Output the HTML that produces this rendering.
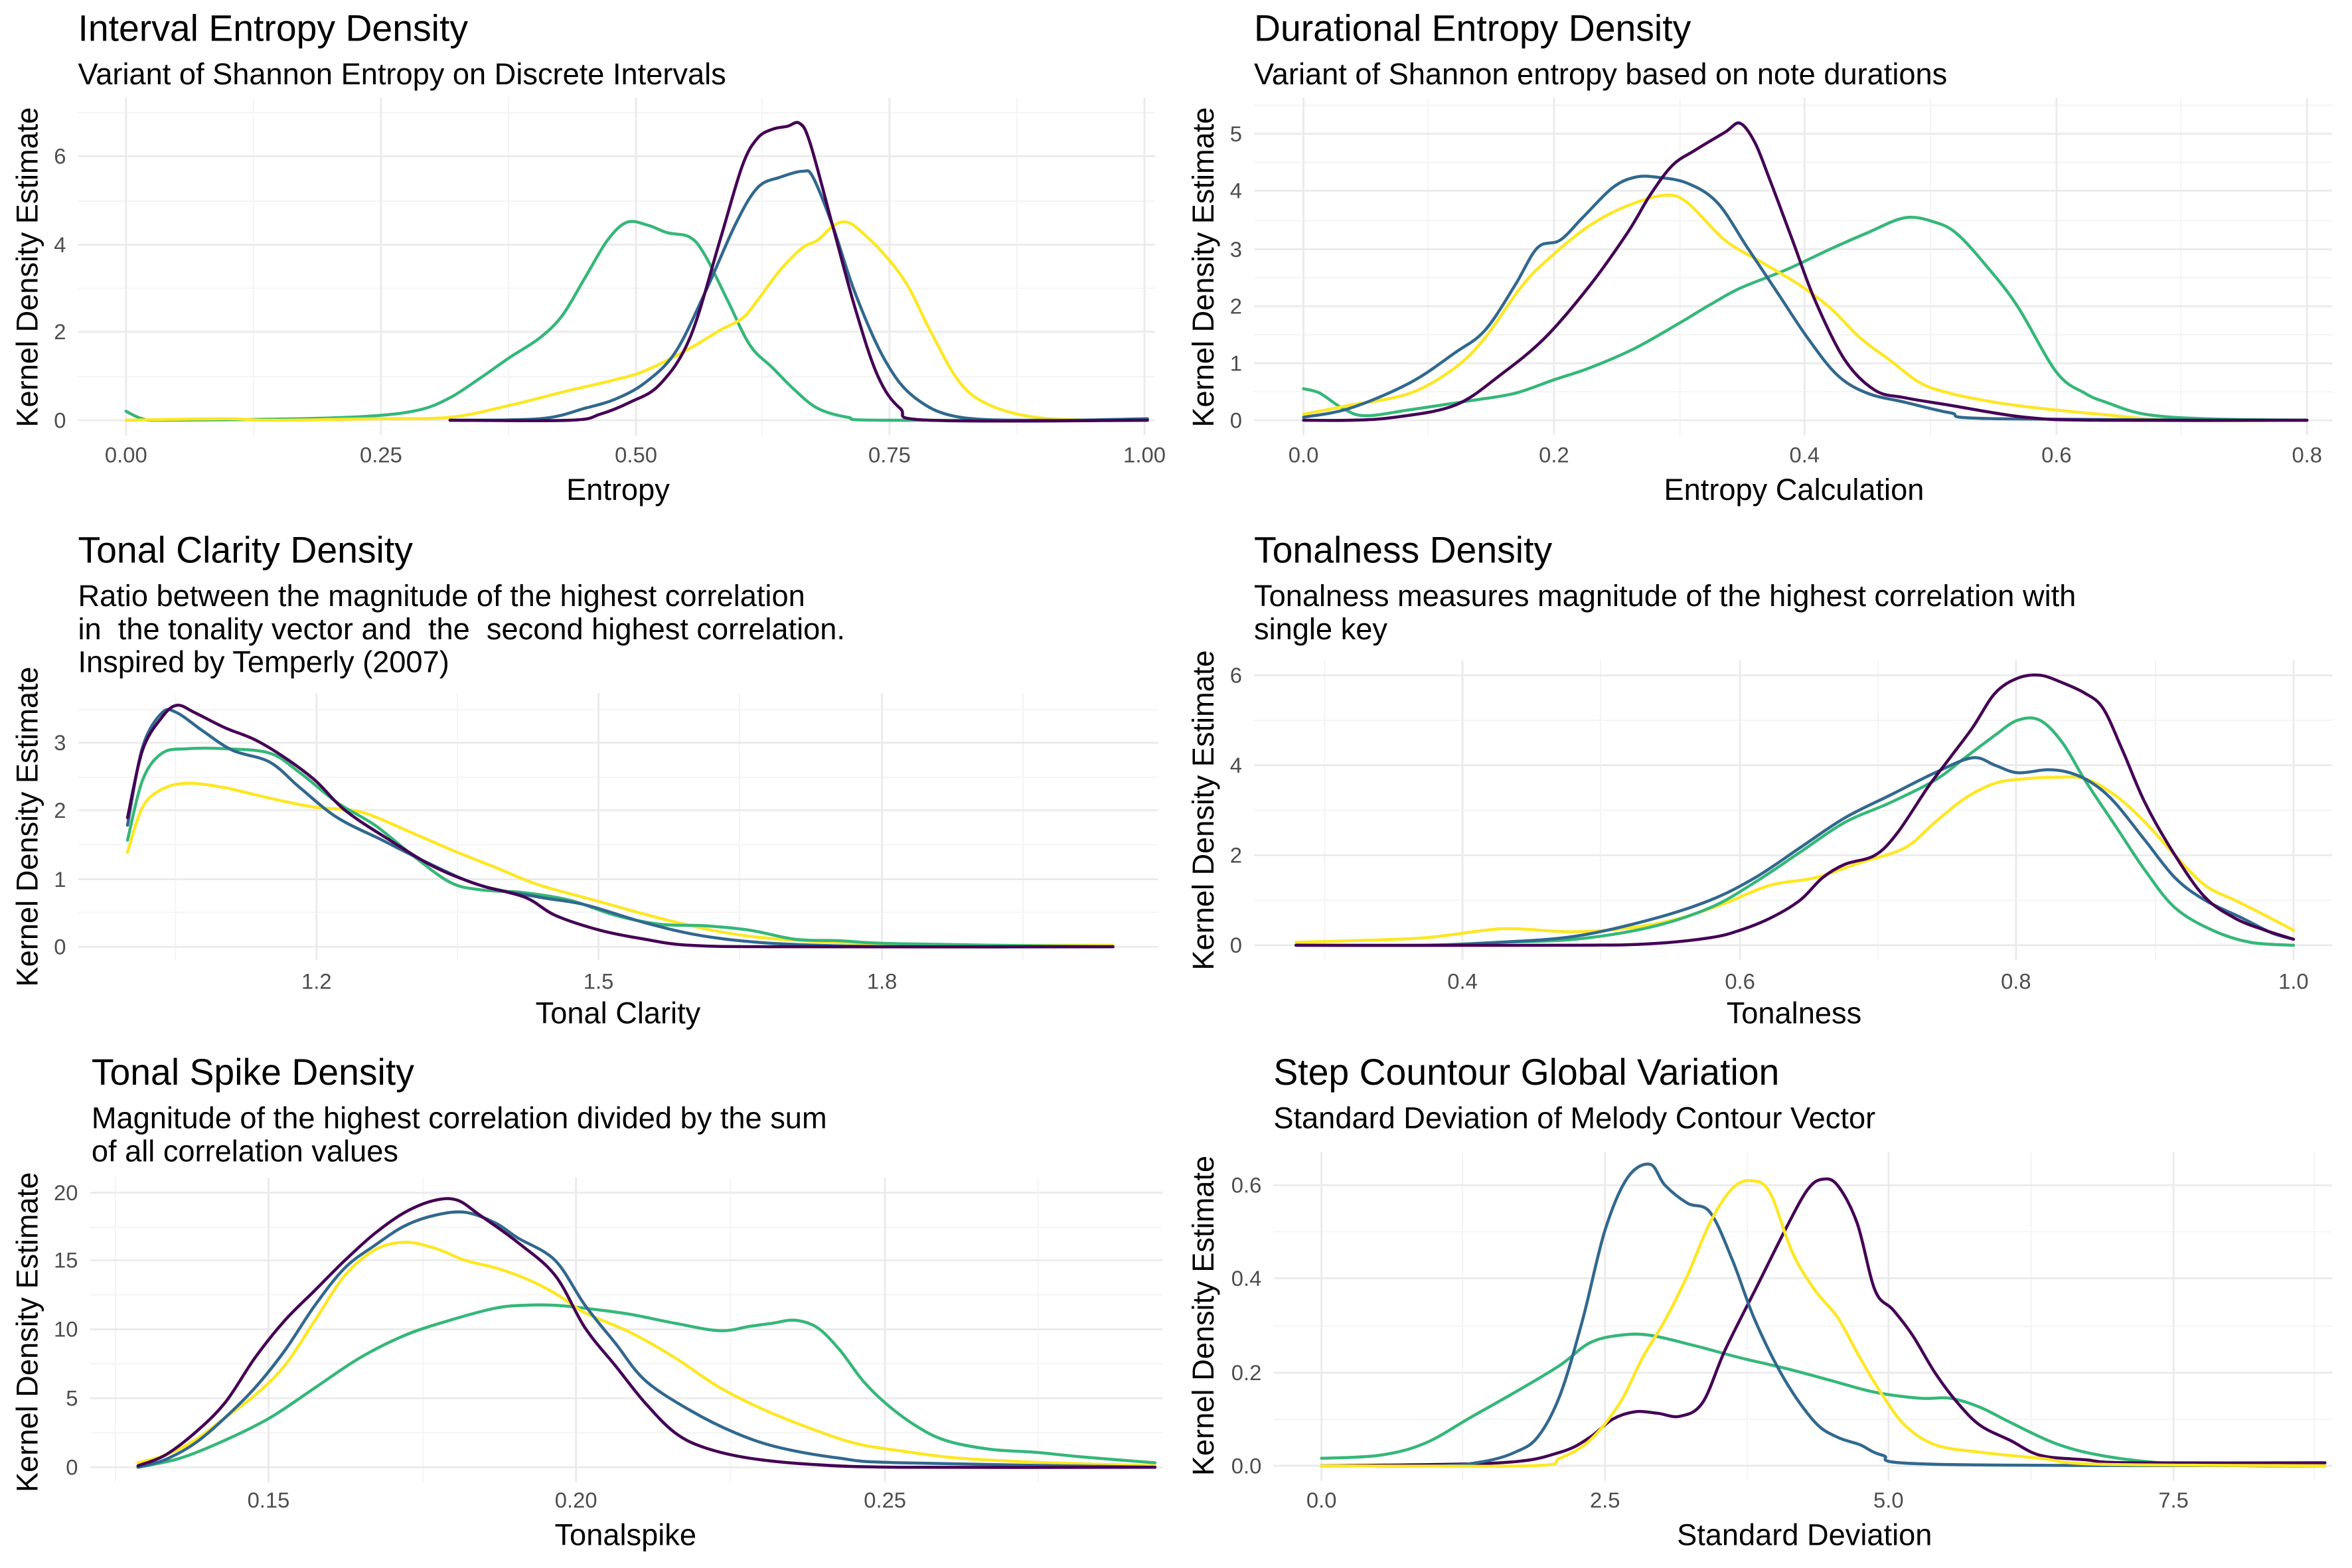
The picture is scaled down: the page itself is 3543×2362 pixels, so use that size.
<!DOCTYPE html>
<html><head><meta charset="utf-8"><style>
html,body{margin:0;padding:0;background:#fff}
svg{display:block}
text{font-family:"Liberation Sans",sans-serif}
.t{font-size:24.5px;fill:#000}
.s{font-size:20px;fill:#000}
.a{font-size:20px;fill:#000}
.k{font-size:14.5px;fill:#4d4d4d}
.mj{stroke:#ebebeb;stroke-width:1.3}
.mn{stroke:#f3f3f3;stroke-width:0.8}
.c{fill:none;stroke-width:2;stroke-linejoin:round;stroke-linecap:round}
.p{stroke:#440154}.b{stroke:#31688e}.g{stroke:#35b779}.y{stroke:#fde725}
</style></head><body>
<svg width="3543" height="2362" viewBox="0 0 1568 1045" xmlns="http://www.w3.org/2000/svg">
<rect width="1568" height="1045" fill="#fff"/>

<!-- Panel 1 -->
<g>
<g class="mn"><line x1="169" y1="65" x2="169" y2="290"/><line x1="339" y1="65" x2="339" y2="290"/><line x1="508" y1="65" x2="508" y2="290"/><line x1="678" y1="65" x2="678" y2="290"/>
<line x1="52" y1="251" x2="770" y2="251"/><line x1="52" y1="192" x2="770" y2="192"/><line x1="52" y1="134" x2="770" y2="134"/><line x1="52" y1="75" x2="770" y2="75"/></g>
<g class="mj"><line x1="84" y1="65" x2="84" y2="290"/><line x1="254" y1="65" x2="254" y2="290"/><line x1="424" y1="65" x2="424" y2="290"/><line x1="593" y1="65" x2="593" y2="290"/><line x1="763" y1="65" x2="763" y2="290"/>
<line x1="52" y1="280" x2="770" y2="280"/><line x1="52" y1="221" x2="770" y2="221"/><line x1="52" y1="163" x2="770" y2="163"/><line x1="52" y1="104" x2="770" y2="104"/></g>
<polyline class="c g" points="84,274 95,279 110,280 200,279 250,277 280,273 300,265 320,252 340,238 360,225 375,210 390,185 405,160 418,148 432,150 445,155 460,158 470,170 485,200 500,230 515,245 530,260 545,272 565,278 590,280 765,280"/>
<polyline class="c y" points="84,280 150,279 180,280 250,279 300,278 340,270 380,260 410,253 430,247 460,232 480,220 495,212 505,200 520,180 535,165 545,160 556,150 565,148 575,155 590,170 605,190 620,220 640,255 660,270 690,278 730,280 765,280"/>
<polyline class="c b" points="300,280 360,279 390,272 410,266 430,255 450,235 470,195 490,150 505,125 520,118 535,114 542,118 555,150 570,195 590,240 610,265 640,278 700,280 765,279"/>
<polyline class="c p" points="300,280 380,280 400,276 420,268 440,256 460,225 480,160 495,110 505,92 515,86 525,84 533,82 540,95 555,150 570,205 585,250 600,272 620,280 765,280"/>
<g class="k" text-anchor="end"><text x="44" y="285">0</text><text x="44" y="226">2</text><text x="44" y="168">4</text><text x="44" y="109">6</text></g>
<g class="k" text-anchor="middle"><text x="84" y="308">0.00</text><text x="254" y="308">0.25</text><text x="424" y="308">0.50</text><text x="593" y="308">0.75</text><text x="763" y="308">1.00</text></g>
<text class="a" x="412" y="333" text-anchor="middle">Entropy</text>
<text class="a" transform="translate(25,178) rotate(-90)" text-anchor="middle">Kernel Density Estimate</text>
<text class="t" x="52" y="27">Interval Entropy Density</text>
<text class="s" x="52" y="56">Variant of Shannon Entropy on Discrete Intervals</text>
</g>

<!-- Panel 2 -->
<g>
<g class="mn"><line x1="952" y1="65" x2="952" y2="290"/><line x1="1120" y1="65" x2="1120" y2="290"/><line x1="1287" y1="65" x2="1287" y2="290"/><line x1="1454" y1="65" x2="1454" y2="290"/>
<line x1="836" y1="261" x2="1555" y2="261"/><line x1="836" y1="223" x2="1555" y2="223"/><line x1="836" y1="185" x2="1555" y2="185"/><line x1="836" y1="147" x2="1555" y2="147"/><line x1="836" y1="108" x2="1555" y2="108"/><line x1="836" y1="70" x2="1555" y2="70"/></g>
<g class="mj"><line x1="869" y1="65" x2="869" y2="290"/><line x1="1036" y1="65" x2="1036" y2="290"/><line x1="1203" y1="65" x2="1203" y2="290"/><line x1="1371" y1="65" x2="1371" y2="290"/><line x1="1538" y1="65" x2="1538" y2="290"/>
<line x1="836" y1="280" x2="1555" y2="280"/><line x1="836" y1="242" x2="1555" y2="242"/><line x1="836" y1="204" x2="1555" y2="204"/><line x1="836" y1="166" x2="1555" y2="166"/><line x1="836" y1="127" x2="1555" y2="127"/><line x1="836" y1="89" x2="1555" y2="89"/></g>
<polyline class="c g" points="869,259 880,262 895,272 910,277 940,273 980,267 1010,262 1036,253 1060,245 1090,232 1120,215 1140,203 1160,192 1190,180 1220,166 1245,155 1270,145 1290,148 1305,156 1325,178 1345,204 1371,248 1390,262 1404,268 1430,276 1470,279 1538,280"/>
<polyline class="c y" points="869,276 900,270 940,262 970,245 990,225 1015,190 1035,170 1060,150 1085,137 1110,130 1125,135 1150,160 1175,175 1200,190 1220,205 1240,225 1260,240 1280,255 1300,262 1330,268 1360,272 1400,276 1450,280 1538,280"/>
<polyline class="c b" points="869,278 900,272 940,255 970,235 990,220 1010,190 1025,165 1040,160 1055,145 1075,125 1090,118 1105,118 1125,122 1145,135 1165,165 1185,195 1205,225 1225,250 1245,262 1270,268 1300,275 1330,279 1538,280"/>
<polyline class="c p" points="869,280 900,280 930,278 970,270 1000,250 1030,225 1060,190 1085,155 1100,130 1115,110 1130,100 1150,88 1160,82 1170,95 1180,120 1195,160 1210,200 1230,240 1250,260 1270,265 1300,270 1350,278 1400,280 1538,280"/>
<g class="k" text-anchor="end"><text x="828" y="285">0</text><text x="828" y="247">1</text><text x="828" y="209">2</text><text x="828" y="171">3</text><text x="828" y="132">4</text><text x="828" y="94">5</text></g>
<g class="k" text-anchor="middle"><text x="869" y="308">0.0</text><text x="1036" y="308">0.2</text><text x="1203" y="308">0.4</text><text x="1371" y="308">0.6</text><text x="1538" y="308">0.8</text></g>
<text class="a" x="1196" y="333" text-anchor="middle">Entropy Calculation</text>
<text class="a" transform="translate(809,178) rotate(-90)" text-anchor="middle">Kernel Density Estimate</text>
<text class="t" x="836" y="27">Durational Entropy Density</text>
<text class="s" x="836" y="56">Variant of Shannon entropy based on note durations</text>
</g>

<!-- Panel 3 -->
<g>
<g class="mn"><line x1="117" y1="462" x2="117" y2="640"/><line x1="305" y1="462" x2="305" y2="640"/><line x1="493" y1="462" x2="493" y2="640"/><line x1="682" y1="462" x2="682" y2="640"/>
<line x1="52" y1="608" x2="772" y2="608"/><line x1="52" y1="563" x2="772" y2="563"/><line x1="52" y1="518" x2="772" y2="518"/><line x1="52" y1="473" x2="772" y2="473"/></g>
<g class="mj"><line x1="211" y1="462" x2="211" y2="640"/><line x1="399" y1="462" x2="399" y2="640"/><line x1="588" y1="462" x2="588" y2="640"/>
<line x1="52" y1="631" x2="772" y2="631"/><line x1="52" y1="586" x2="772" y2="586"/><line x1="52" y1="540" x2="772" y2="540"/><line x1="52" y1="495" x2="772" y2="495"/></g>
<polyline class="c y" points="85,568 95,538 108,526 125,522 150,525 180,532 210,538 240,541 270,553 300,566 330,578 360,590 400,601 440,612 480,621 520,626 580,629 650,630 742,630"/>
<polyline class="c g" points="85,560 95,520 108,502 125,499 150,499 180,502 200,515 225,535 250,550 275,570 300,588 320,593 350,595 380,600 410,610 440,616 470,617 500,620 530,626 560,627 600,629 742,631"/>
<polyline class="c b" points="85,550 95,498 108,475 118,475 135,487 155,500 180,508 200,525 225,545 255,560 285,575 320,590 360,598 390,603 430,615 470,624 520,629 600,631 742,631"/>
<polyline class="c p" points="85,545 95,500 108,478 118,470 130,475 150,485 170,493 190,505 210,520 230,540 260,560 290,578 320,590 350,598 370,610 400,620 430,626 460,630 520,631 742,631"/>
<g class="k" text-anchor="end"><text x="44" y="636">0</text><text x="44" y="591">1</text><text x="44" y="545">2</text><text x="44" y="500">3</text></g>
<g class="k" text-anchor="middle"><text x="211" y="659">1.2</text><text x="399" y="659">1.5</text><text x="588" y="659">1.8</text></g>
<text class="a" x="412" y="682" text-anchor="middle">Tonal Clarity</text>
<text class="a" transform="translate(25,551) rotate(-90)" text-anchor="middle">Kernel Density Estimate</text>
<text class="t" x="52" y="375">Tonal Clarity Density</text>
<text class="s" x="52" y="404" xml:space="preserve">Ratio between the magnitude of the highest correlation</text>
<text class="s" x="52" y="426" xml:space="preserve">in  the tonality vector and  the  second highest correlation.</text>
<text class="s" x="52" y="448">Inspired by Temperly (2007)</text>
</g>

<!-- Panel 4 -->
<g>
<g class="mn"><line x1="883" y1="440" x2="883" y2="640"/><line x1="1067" y1="440" x2="1067" y2="640"/><line x1="1252" y1="440" x2="1252" y2="640"/><line x1="1437" y1="440" x2="1437" y2="640"/>
<line x1="836" y1="600" x2="1555" y2="600"/><line x1="836" y1="540" x2="1555" y2="540"/><line x1="836" y1="480" x2="1555" y2="480"/></g>
<g class="mj"><line x1="975" y1="440" x2="975" y2="640"/><line x1="1160" y1="440" x2="1160" y2="640"/><line x1="1344" y1="440" x2="1344" y2="640"/><line x1="1529" y1="440" x2="1529" y2="640"/>
<line x1="836" y1="630" x2="1555" y2="630"/><line x1="836" y1="570" x2="1555" y2="570"/><line x1="836" y1="510" x2="1555" y2="510"/><line x1="836" y1="450" x2="1555" y2="450"/></g>
<polyline class="c y" points="864,628 900,627 950,625 990,620 1010,619 1050,621 1090,618 1120,612 1150,602 1180,590 1210,585 1240,575 1270,565 1290,548 1310,532 1330,522 1350,519 1370,518 1390,519 1410,530 1430,548 1450,570 1470,590 1490,600 1510,610 1529,620"/>
<polyline class="c g" points="864,630 950,630 1000,628 1050,626 1100,618 1140,605 1170,588 1200,568 1230,548 1260,535 1290,520 1310,505 1330,490 1345,480 1360,480 1375,495 1390,520 1410,550 1430,580 1450,605 1475,620 1500,628 1529,630"/>
<polyline class="c b" points="864,630 950,630 1000,628 1050,624 1100,613 1140,600 1170,585 1200,565 1230,545 1260,530 1290,515 1315,505 1330,510 1345,515 1365,513 1380,515 1395,522 1410,535 1430,560 1450,585 1470,600 1495,612 1515,622 1529,626"/>
<polyline class="c p" points="864,630 1050,630 1100,629 1140,625 1160,620 1180,612 1200,600 1215,585 1230,576 1250,570 1265,555 1285,525 1300,505 1315,485 1330,462 1345,452 1360,450 1375,455 1390,462 1402,472 1415,500 1430,535 1450,570 1470,598 1490,612 1510,620 1529,626"/>
<g class="k" text-anchor="end"><text x="828" y="635">0</text><text x="828" y="575">2</text><text x="828" y="515">4</text><text x="828" y="455">6</text></g>
<g class="k" text-anchor="middle"><text x="975" y="659">0.4</text><text x="1160" y="659">0.6</text><text x="1344" y="659">0.8</text><text x="1529" y="659">1.0</text></g>
<text class="a" x="1196" y="682" text-anchor="middle">Tonalness</text>
<text class="a" transform="translate(809,540) rotate(-90)" text-anchor="middle">Kernel Density Estimate</text>
<text class="t" x="836" y="375">Tonalness Density</text>
<text class="s" x="836" y="404">Tonalness measures magnitude of the highest correlation with</text>
<text class="s" x="836" y="426">single key</text>
</g>

<!-- Panel 5 -->
<g>
<g class="mn"><line x1="77" y1="785" x2="77" y2="988"/><line x1="282" y1="785" x2="282" y2="988"/><line x1="487" y1="785" x2="487" y2="988"/><line x1="692" y1="785" x2="692" y2="988"/>
<line x1="60" y1="955" x2="775" y2="955"/><line x1="60" y1="909" x2="775" y2="909"/><line x1="60" y1="863" x2="775" y2="863"/><line x1="60" y1="818" x2="775" y2="818"/></g>
<g class="mj"><line x1="179" y1="785" x2="179" y2="988"/><line x1="384" y1="785" x2="384" y2="988"/><line x1="590" y1="785" x2="590" y2="988"/>
<line x1="60" y1="978" x2="775" y2="978"/><line x1="60" y1="932" x2="775" y2="932"/><line x1="60" y1="886" x2="775" y2="886"/><line x1="60" y1="840" x2="775" y2="840"/><line x1="60" y1="795" x2="775" y2="795"/></g>
<polyline class="c g" points="92,978 120,972 150,960 180,945 210,925 240,905 270,890 300,880 330,872 350,870 370,870 390,872 420,876 450,882 480,887 500,884 515,882 530,880 545,885 560,900 575,920 590,935 610,950 630,960 660,966 690,968 720,971 770,975"/>
<polyline class="c y" points="92,975 110,970 130,960 150,945 170,930 190,910 210,880 230,850 250,833 270,828 290,832 310,840 330,845 350,852 370,862 390,875 420,888 450,905 480,925 510,940 540,952 570,962 600,967 640,972 700,975 770,977"/>
<polyline class="c b" points="92,978 110,973 130,962 150,945 170,925 190,900 210,870 230,845 250,830 270,817 290,810 310,808 330,815 345,825 370,840 390,870 410,895 430,920 460,940 490,955 520,965 560,972 600,975 770,978"/>
<polyline class="c p" points="92,977 110,970 130,955 150,935 170,905 190,880 210,860 230,840 250,822 270,808 290,800 305,800 320,810 345,828 370,850 390,885 410,910 430,935 450,955 470,965 500,972 540,976 600,978 770,978"/>
<g class="k" text-anchor="end"><text x="52" y="983">0</text><text x="52" y="937">5</text><text x="52" y="891">10</text><text x="52" y="845">15</text><text x="52" y="800">20</text></g>
<g class="k" text-anchor="middle"><text x="179" y="1005">0.15</text><text x="384" y="1005">0.20</text><text x="590" y="1005">0.25</text></g>
<text class="a" x="417" y="1030" text-anchor="middle">Tonalspike</text>
<text class="a" transform="translate(25,888) rotate(-90)" text-anchor="middle">Kernel Density Estimate</text>
<text class="t" x="61" y="723">Tonal Spike Density</text>
<text class="s" x="61" y="752">Magnitude of the highest correlation divided by the sum</text>
<text class="s" x="61" y="774">of all correlation values</text>
</g>

<!-- Panel 6 -->
<g>
<g class="mn"><line x1="975" y1="768" x2="975" y2="987"/><line x1="1165" y1="768" x2="1165" y2="987"/><line x1="1354" y1="768" x2="1354" y2="987"/><line x1="1543" y1="768" x2="1543" y2="987"/>
<line x1="849" y1="946" x2="1555" y2="946"/><line x1="849" y1="884" x2="1555" y2="884"/><line x1="849" y1="821" x2="1555" y2="821"/></g>
<g class="mj"><line x1="881" y1="768" x2="881" y2="987"/><line x1="1070" y1="768" x2="1070" y2="987"/><line x1="1259" y1="768" x2="1259" y2="987"/><line x1="1449" y1="768" x2="1449" y2="987"/>
<line x1="849" y1="977" x2="1555" y2="977"/><line x1="849" y1="915" x2="1555" y2="915"/><line x1="849" y1="852" x2="1555" y2="852"/><line x1="849" y1="790" x2="1555" y2="790"/></g>
<polyline class="c g" points="881,972 920,970 950,962 980,945 1010,928 1040,910 1060,895 1080,890 1100,890 1130,897 1160,905 1190,912 1220,920 1250,928 1280,932 1300,932 1320,938 1340,948 1370,962 1400,970 1440,975 1500,977 1550,977"/>
<polyline class="c p" points="881,977 1000,975 1040,968 1060,958 1075,946 1090,941 1105,942 1120,944 1135,935 1150,900 1170,860 1190,820 1205,793 1215,786 1225,790 1238,815 1250,860 1262,873 1275,890 1290,915 1305,935 1320,950 1340,960 1360,970 1390,973 1420,975 1550,975"/>
<polyline class="c b" points="881,977 960,977 990,974 1010,968 1025,958 1040,930 1055,880 1070,820 1085,785 1100,776 1110,790 1125,802 1140,808 1155,840 1170,880 1190,920 1210,948 1225,958 1240,963 1255,970 1290,976 1550,977"/>
<polyline class="c y" points="881,977 1020,977 1040,972 1060,960 1080,935 1095,905 1110,880 1125,850 1140,815 1155,792 1168,787 1180,795 1195,835 1210,860 1225,878 1240,905 1255,930 1270,950 1290,963 1320,968 1360,972 1400,976 1550,977"/>
<g class="k" text-anchor="end"><text x="841" y="982">0.0</text><text x="841" y="920">0.2</text><text x="841" y="857">0.4</text><text x="841" y="795">0.6</text></g>
<g class="k" text-anchor="middle"><text x="881" y="1005">0.0</text><text x="1070" y="1005">2.5</text><text x="1259" y="1005">5.0</text><text x="1449" y="1005">7.5</text></g>
<text class="a" x="1203" y="1030" text-anchor="middle">Standard Deviation</text>
<text class="a" transform="translate(809,877) rotate(-90)" text-anchor="middle">Kernel Density Estimate</text>
<text class="t" x="849" y="723">Step Countour Global Variation</text>
<text class="s" x="849" y="752">Standard Deviation of Melody Contour Vector</text>
</g>
</svg>
<script>
document.querySelectorAll('polyline.c').forEach(function(pl){
  var pts=pl.getAttribute('points').trim().split(/\s+/).map(function(s){var a=s.split(',');return [+a[0],+a[1]];});
  var d='M'+pts[0][0]+','+pts[0][1];
  for(var i=0;i<pts.length-1;i++){
    var p0=pts[i-1]||pts[i],p1=pts[i],p2=pts[i+1],p3=pts[i+2]||p2;
    var c1=[p1[0]+(p2[0]-p0[0])/6,p1[1]+(p2[1]-p0[1])/6];
    var c2=[p2[0]-(p3[0]-p1[0])/6,p2[1]-(p3[1]-p1[1])/6];
    d+='C'+c1[0].toFixed(1)+','+c1[1].toFixed(1)+' '+c2[0].toFixed(1)+','+c2[1].toFixed(1)+' '+p2[0]+','+p2[1];
  }
  var p=document.createElementNS('http://www.w3.org/2000/svg','path');
  p.setAttribute('d',d);p.setAttribute('class',pl.getAttribute('class'));
  pl.parentNode.replaceChild(p,pl);
});
</script>
</body></html>
